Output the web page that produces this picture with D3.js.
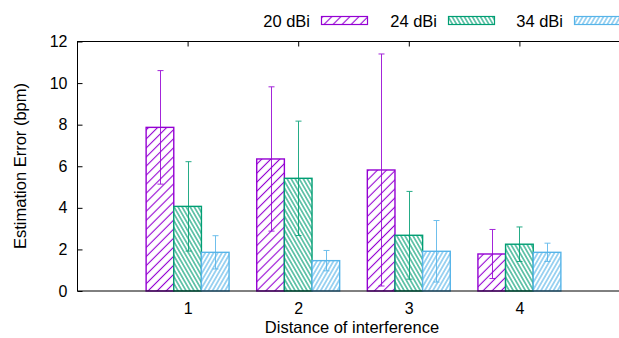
<!DOCTYPE html>
<html>
<head>
<meta charset="utf-8">
<script src="https://cdn.jsdelivr.net/npm/d3@7"></script>
<style>
  html, body { margin: 0; padding: 0; background: #fff; }
  svg { display: block; font-family: "Liberation Sans", Arial, sans-serif; }
</style>
</head>
<body>
<svg id="chart" width="619" height="338"></svg>
<script>
// Categories (distance of interference) and antenna-gain series
const categories = [1, 2, 3, 4];
const seriesNames = ["20 dBi", "24 dBi", "34 dBi"];
// Mean estimation error (bpm) per series, one value per category
const mean20 = [7.87, 6.35, 5.82, 1.78];
const mean24 = [4.07, 5.42, 2.68, 2.25];
const mean34 = [1.86, 1.46, 1.91, 1.86];
// Standard deviation (error bar half-length)
const err20 = [2.73, 3.47, 5.58, 1.18];
const err24 = [2.15, 2.75, 2.11, 0.83];
const err34 = [0.80, 0.49, 1.48, 0.44];
const yTicks = [0, 2, 4, 6, 8, 10, 12];

const colors = ["#9400D3", "#009E73", "#56B4E9"];
const series = [
  { name: seriesNames[0], values: mean20, errs: err20, color: colors[0], pat: "p20" },
  { name: seriesNames[1], values: mean24, errs: err24, color: colors[1], pat: "p24" },
  { name: seriesNames[2], values: mean34, errs: err34, color: colors[2], pat: "p34" }
];

const svg = d3.select("#chart");
const plotL = 77, plotR = 630, plotT = 41.5, plotB = 291;

const x = d3.scaleLinear().domain([0, 5]).range([plotL, plotR]);
const y = d3.scaleLinear().domain([0, 12]).range([plotB, plotT]);
const barW = 0.25;

// Hatch patterns: vertical strokes rotated into diagonals
const defs = svg.append("defs");
function hatch(id, color, spacing, angle, width) {
  const p = defs.append("pattern")
    .attr("id", id)
    .attr("patternUnits", "userSpaceOnUse")
    .attr("width", spacing)
    .attr("height", 20)
    .attr("patternTransform", `rotate(${angle})`);
  p.append("rect").attr("width", spacing).attr("height", 20).attr("fill", "#fff");
  p.append("line")
    .attr("x1", spacing / 2).attr("x2", spacing / 2)
    .attr("y1", 0).attr("y2", 20)
    .attr("stroke", color).attr("stroke-width", width);
}
hatch("p20", colors[0], 6.4, 45, 1.1);
hatch("p24", colors[1], 3.5, -30, 1.1);
hatch("p34", colors[2], 3.6, 30, 1.1);

// Bars
series.forEach((s, si) => {
  const g = svg.append("g");
  const off = (si - 1) * barW;
  g.selectAll("rect")
    .data(categories.map((c, i) => ({ c, v: s.values[i], e: s.errs[i] })))
    .join("rect")
    .attr("x", d => x(d.c + off - barW / 2))
    .attr("width", d => x(d.c + off + barW / 2) - x(d.c + off - barW / 2))
    .attr("y", d => y(d.v))
    .attr("height", d => y(0) - y(d.v))
    .attr("fill", `url(#${s.pat})`)
    .attr("stroke", s.color)
    .attr("stroke-width", 1.4);
});

// Error bars
series.forEach((s, si) => {
  const g = svg.append("g").attr("stroke", s.color).attr("stroke-width", 1).attr("opacity", 0.85);
  const off = (si - 1) * barW;
  categories.forEach((c, i) => {
    const cx = Math.round(x(c + off)) + 0.5;
    const lo = y(Math.max(0, s.values[i] - s.errs[i]));
    const hi = y(s.values[i] + s.errs[i]);
    g.append("line").attr("x1", cx).attr("x2", cx).attr("y1", lo).attr("y2", hi);
    g.append("line").attr("x1", cx - 3).attr("x2", cx + 3).attr("y1", lo).attr("y2", lo);
    g.append("line").attr("x1", cx - 3).attr("x2", cx + 3).attr("y1", hi).attr("y2", hi);
  });
});

// Frame
svg.append("rect")
  .attr("x", plotL + 0.5).attr("y", plotT)
  .attr("width", plotR - plotL).attr("height", plotB - plotT)
  .attr("fill", "none").attr("stroke", "#000").attr("stroke-width", 1);

// Left axis: inward ticks
const yAxis = d3.axisLeft(y).tickValues(yTicks).tickSize(-5).tickPadding(10).tickFormat(d3.format("d"));
const ya = svg.append("g").attr("transform", `translate(${plotL + 0.5},0)`).call(yAxis);
ya.select(".domain").remove();
ya.selectAll("text").attr("font-size", 16).attr("fill", "#000").attr("font-family", "Liberation Sans, Arial, sans-serif");

// Bottom axis: labels only, ticks hidden behind bars
const xAxis = d3.axisBottom(x).tickValues(categories).tickSize(0).tickPadding(12).tickFormat(d3.format("d"));
const xa = svg.append("g").attr("transform", `translate(0,${plotB})`).call(xAxis);
xa.select(".domain").remove();
xa.selectAll("text").attr("font-size", 16).attr("fill", "#000").attr("font-family", "Liberation Sans, Arial, sans-serif");

// Mirrored ticks on the top border
const xTop = d3.axisTop(x).tickValues(categories).tickSize(-5).tickFormat("");
const xt = svg.append("g").attr("transform", `translate(0,${plotT})`).call(xTop);
xt.select(".domain").remove();

// Axis titles
svg.append("text")
  .attr("x", (263 + 441) / 2).attr("y", 333)
  .attr("text-anchor", "middle").attr("font-size", 16.5)
  .text("Distance of interference");
svg.append("text")
  .attr("transform", "translate(26,166) rotate(-90)")
  .attr("text-anchor", "middle").attr("font-size", 16.5)
  .text("Estimation Error (bpm)");

// Legend
const legendX = [310, 437, 563];
series.forEach((s, si) => {
  const lx = legendX[si];
  svg.append("text")
    .attr("x", lx).attr("y", 26.5)
    .attr("text-anchor", "end").attr("font-size", 16.5)
    .text(s.name);
  svg.append("rect")
    .attr("x", lx + 11.5).attr("y", 16.5)
    .attr("width", 46).attr("height", 8)
    .attr("fill", `url(#${s.pat})`)
    .attr("stroke", s.color).attr("stroke-width", 1.2);
});
</script>
</body>
</html>
